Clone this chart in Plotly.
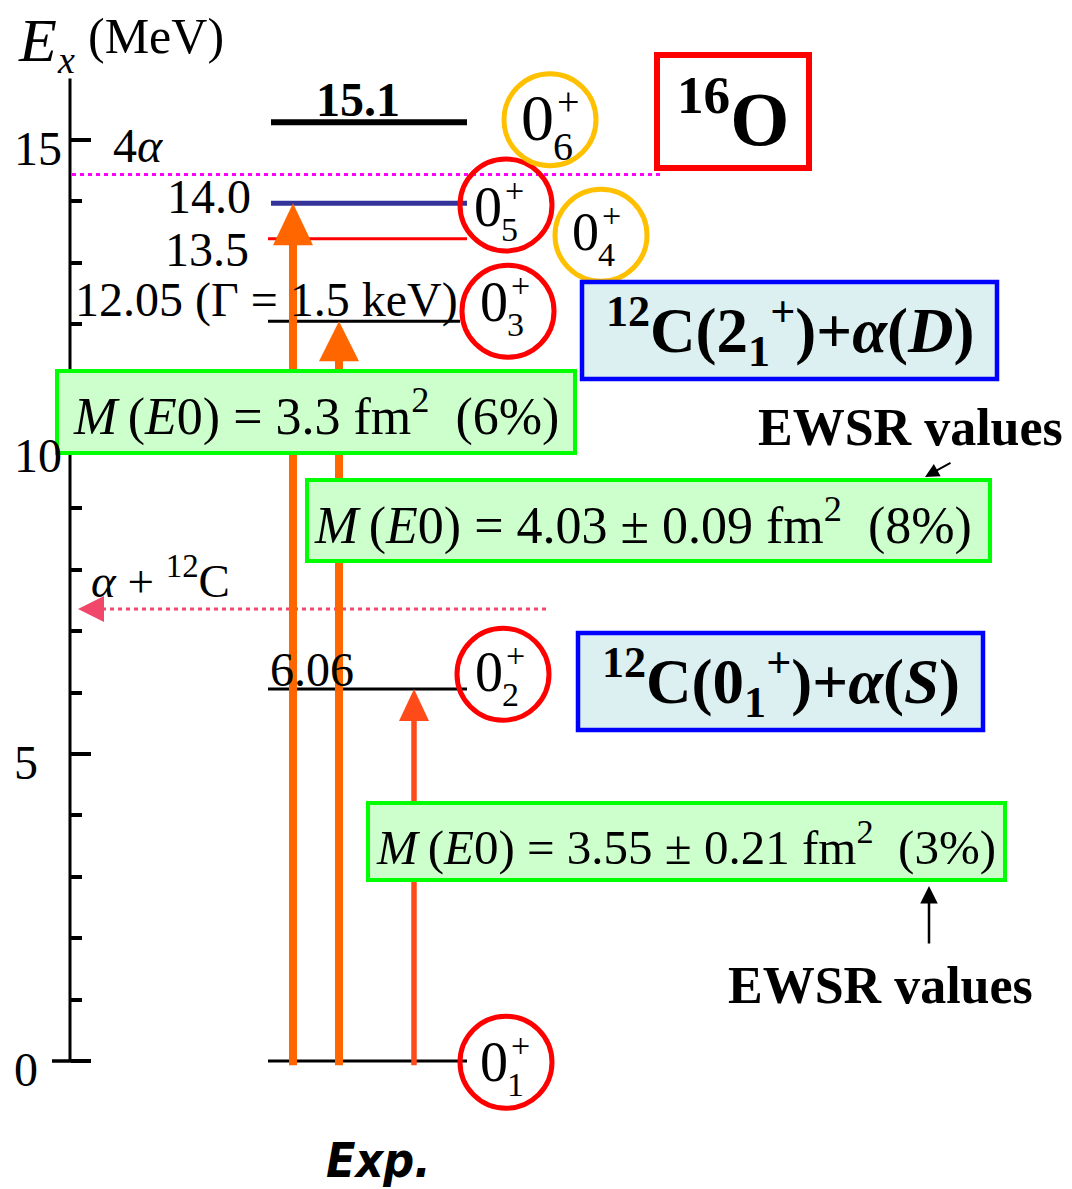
import plotly.graph_objects as go

W, H = 1072, 1189
PX_PER_MEV = 61.4      # vertical scale of the energy axis
ZERO_ROW = 1061        # page row of E = 0
SERIF = "Liberation Serif, Times New Roman, serif"


def py(row):
    """page row -> energy (MeV) for layout placement"""
    return (ZERO_ROW - row) / PX_PER_MEV


# ------------------------------------------------------------------ data
major_ticks = [0, 5, 10, 15]
minor_ticks = [1, 2, 3, 4, 6, 7, 8, 9, 11, 12, 13, 14]
axis_top = 16.0

# levels (drawn energies) and their text labels
level_E = [0.0, 6.06, 12.05, 13.39, 13.97, 15.29]
level_text = ["", "6.06", "12.05 (Γ = 1.5 keV)", "13.5", "14.0", "<b>15.1</b>"]
level_colors = ["#000000", "#000000", "#000000", "#FF0000", "#333399", "#000000"]
level_widths = [3, 3, 3, 3, 5, 6]
level_x = [[268, 467], [268, 467], [268, 460], [268, 467], [271, 467], [271, 467]]

# E0 transitions from the ground state
trans_to = [13.97, 12.05, 6.06]
trans_x = [293, 339, 414]
trans_colors = ["#FF6600", "#FF6600", "#FF4A1A"]
trans_widths = [8, 8, 5.5]
trans_head = [(40, 42), (40, 40), (30, 32)]   # head width, height (px)

# M(E0) values
me0_values = ["3.3", "4.03 ± 0.09", "3.55 ± 0.21"]
me0_percent = ["6%", "8%", "3%"]

# 0+ states (ring centres)
state_index = ["1", "2", "3", "4", "5", "6"]
state_E = [-0.02, 6.30, 12.21, 13.45, 13.94, 15.33]
state_x = [506, 503, 508, 601, 506, 550]
state_ring = ["#FF0000", "#FF0000", "#FF0000", "#FFC000", "#FF0000", "#FFC000"]

# thresholds
four_alpha_E = 14.44
alpha_c12_E = 7.36

# ------------------------------------------------------------------ figure
fig = go.Figure()

# level lines as traces
for E, (x0, x1), c, w in zip(level_E, level_x, level_colors, level_widths):
    fig.add_trace(go.Scatter(x=[x0, x1], y=[E, E], mode="lines",
                             line=dict(color=c, width=w), hoverinfo="skip",
                             showlegend=False))

shapes = []
ann = []

# energy axis line + left extension of the 0 tick
shapes.append(dict(type="line", xref="x", yref="y", x0=70, x1=70, y0=0, y1=axis_top,
                   line=dict(color="black", width=3)))
shapes.append(dict(type="line", xref="x", yref="y", x0=52, x1=71, y0=0, y1=0,
                   line=dict(color="black", width=3.5)))

# 4 alpha threshold
shapes.append(dict(type="line", xref="x", yref="y", x0=72, x1=663,
                   y0=four_alpha_E, y1=four_alpha_E,
                   line=dict(color="#FF00FF", width=3, dash="4px,4px")))

# alpha + 12C threshold (dotted arrow pointing to the axis)
shapes.append(dict(type="line", xref="x", yref="y", x0=102, x1=550,
                   y0=alpha_c12_E, y1=alpha_c12_E,
                   line=dict(color="#F0476A", width=3, dash="4px,4px")))
hh = 13 / PX_PER_MEV
shapes.append(dict(type="path", xref="x", yref="y",
                   path=f"M 104,{alpha_c12_E + hh} L 104,{alpha_c12_E - hh} L 78,{alpha_c12_E} Z",
                   fillcolor="#F0476A", line=dict(width=0)))

# transition arrows
for E, x, c, w, (hw, hh_px) in zip(trans_to, trans_x, trans_colors, trans_widths, trans_head):
    h = hh_px / PX_PER_MEV
    shapes.append(dict(type="line", xref="x", yref="y", x0=x, x1=x, y0=-0.07, y1=E - h + 0.05,
                       line=dict(color=c, width=w)))
    shapes.append(dict(type="path", xref="x", yref="y",
                       path=f"M {x - hw / 2},{E - h} L {x + hw / 2},{E - h} L {x},{E} Z",
                       fillcolor=c, line=dict(width=0)))

# rings around the 0+ states
R = 46
for E, x, c in zip(state_E, state_x, state_ring):
    shapes.append(dict(type="circle", xref="x", yref="y",
                       x0=x - R, x1=x + R, y0=E - R / PX_PER_MEV, y1=E + R / PX_PER_MEV,
                       line=dict(color=c, width=5)))

# label placement of the ring texts (px offsets from ring centre)
zero_off = [(-12, 0), (-14, -2), (-14, -9), (-16, -3), (-18, 2), (-13, -2)]
zero_size = [56, 56, 56, 54, 56, 66]
for i, (E, x) in enumerate(zip(state_E, state_x)):
    row = ZERO_ROW - E * PX_PER_MEV
    zx, zy = x + zero_off[i][0], row + zero_off[i][1]
    big = zero_size[i] > 60
    s_small = 40 if big else 34
    ann.append(dict(x=zx, y=py(zy), text="0", font=dict(size=zero_size[i])))
    ann.append(dict(x=zx + (31 if big else 26), y=py(zy - (16 if big else 17)), text="+",
                    font=dict(size=s_small)))
    ann.append(dict(x=zx + (26 if big else 21), y=py(zy + (29 if big else 22)),
                    text=state_index[i], font=dict(size=s_small)))

# boxes -------------------------------------------------------------
def box(x0, x1, r0, r1, line, fill, width):
    shapes.append(dict(type="rect", xref="x", yref="y", x0=x0, x1=x1, y0=py(r1), y1=py(r0),
                       line=dict(color=line, width=width), fillcolor=fill, layer="above"))

GREEN_FILL, GREEN_LINE = "#CCFFCC", "#00FF00"
BLUE_FILL, BLUE_LINE = "#DDF0F1", "#0000FF"

box(57, 575, 371, 453, GREEN_LINE, GREEN_FILL, 4)
box(307, 990, 480, 561, GREEN_LINE, GREEN_FILL, 4)
box(368, 1005, 803, 880, GREEN_LINE, GREEN_FILL, 4)
box(582, 997, 282, 379, BLUE_LINE, BLUE_FILL, 4.5)
box(578, 983, 633, 730, BLUE_LINE, BLUE_FILL, 4.5)
box(657, 809, 55, 168, "#FF0000", "#FFFFFF", 6)

me0_pos = [(316, 413, 52), (643, 522, 52), (686, 843, 49)]
for v, p, (cx, cy, sz) in zip(me0_values, me0_percent, me0_pos):
    ann.append(dict(x=cx, y=py(cy),
                    text=f"<i>M</i>\u2009(<i>E</i>0) = {v} fm<sup>2</sup>\u00a0\u00a0({p})",
                    font=dict(size=sz)))

ann.append(dict(x=790, y=py(331), font=dict(size=63),
                text="<b><sup>12</sup>C(2<sub>1</sub><sup>+</sup>)+<i>α</i>(<i>D</i>)</b>"))
ann.append(dict(x=781, y=py(682), font=dict(size=63),
                text="<b><sup>12</sup>C(0<sub>1</sub><sup>+</sup>)+<i>α</i>(<i>S</i>)</b>"))
ann.append(dict(x=733, y=py(113), font=dict(size=76), text="<b><sup>16</sup>O</b>"))

# EWSR labels + arrows
ann.append(dict(x=910, y=py(427), font=dict(size=52), text="<b>EWSR values</b>"))
ann.append(dict(x=880, y=py(985), font=dict(size=52), text="<b>EWSR values</b>"))
ann.append(dict(x=925, y=py(477), ax=952, ay=py(462), axref="x", ayref="y", text="",
                showarrow=True, arrowhead=2, arrowsize=1.4, arrowwidth=2, arrowcolor="black"))
ann.append(dict(x=929, y=py(886), ax=929, ay=py(945), axref="x", ayref="y", text="",
                showarrow=True, arrowhead=2, arrowsize=1.4, arrowwidth=2.5, arrowcolor="black"))

# level labels
lvl_pos = [None, (268, 669, "left"), (73, 300, "left"), (251, 249, "right"),
           (253, 196, "right"), (358, 99, "center")]
for t, p in zip(level_text, lvl_pos):
    if p is None:
        continue
    ann.append(dict(x=p[0], y=py(p[1]), text=t, xanchor=p[2], font=dict(size=48)))

ann.append(dict(x=111, y=py(145), text="4<i>α</i>", xanchor="left", font=dict(size=48)))
ann.append(dict(x=89, y=py(577), text="<i>α</i> + <sup>12</sup>C", xanchor="left",
                font=dict(size=47)))

# tick labels
for v in major_ticks:
    row = ZERO_ROW - v * PX_PER_MEV
    ann.append(dict(x=12, y=py(row + 8), text=str(v), xanchor="left", font=dict(size=48)))

# axis title
ann.append(dict(x=16, y=py(40), text="<i>E</i>", xanchor="left", font=dict(size=62)))
ann.append(dict(x=55, y=py(60), text="<i>x</i>", xanchor="left", font=dict(size=38)))
ann.append(dict(x=86, y=py(36), text="(MeV)", xanchor="left", font=dict(size=50)))

# Exp.
ann.append(dict(x=378, y=py(1160), text="<b><i>Exp.</i></b>",
                font=dict(size=48, family="Liberation Sans Narrow, DejaVu Sans Condensed, DejaVu Sans")))

for a in ann:
    a.setdefault("xref", "x")
    a.setdefault("yref", "y")
    a.setdefault("showarrow", False)
    a.setdefault("xanchor", "center")
    a.setdefault("yanchor", "middle")
    f = a.setdefault("font", {})
    f.setdefault("family", SERIF)
    f.setdefault("color", "black")

fig.update_layout(
    width=W, height=H,
    margin=dict(l=0, r=0, t=0, b=0),
    paper_bgcolor="white", plot_bgcolor="white",
    showlegend=False,
    xaxis=dict(range=[0, W], visible=False, fixedrange=True),
    yaxis=dict(range=[py(H), py(0)], anchor="free", position=70 / W,
               showline=False, showgrid=False, zeroline=False,
               tickmode="array", tickvals=major_ticks, ticks="inside",
               ticklen=20, tickwidth=3.5, tickcolor="black", showticklabels=False,
               minor=dict(tickmode="array", tickvals=minor_ticks, ticks="inside",
                          ticklen=11, tickwidth=3.5, tickcolor="black", showgrid=False),
               fixedrange=True),
    shapes=shapes,
    annotations=ann,
)

fig.write_html("out.html")
